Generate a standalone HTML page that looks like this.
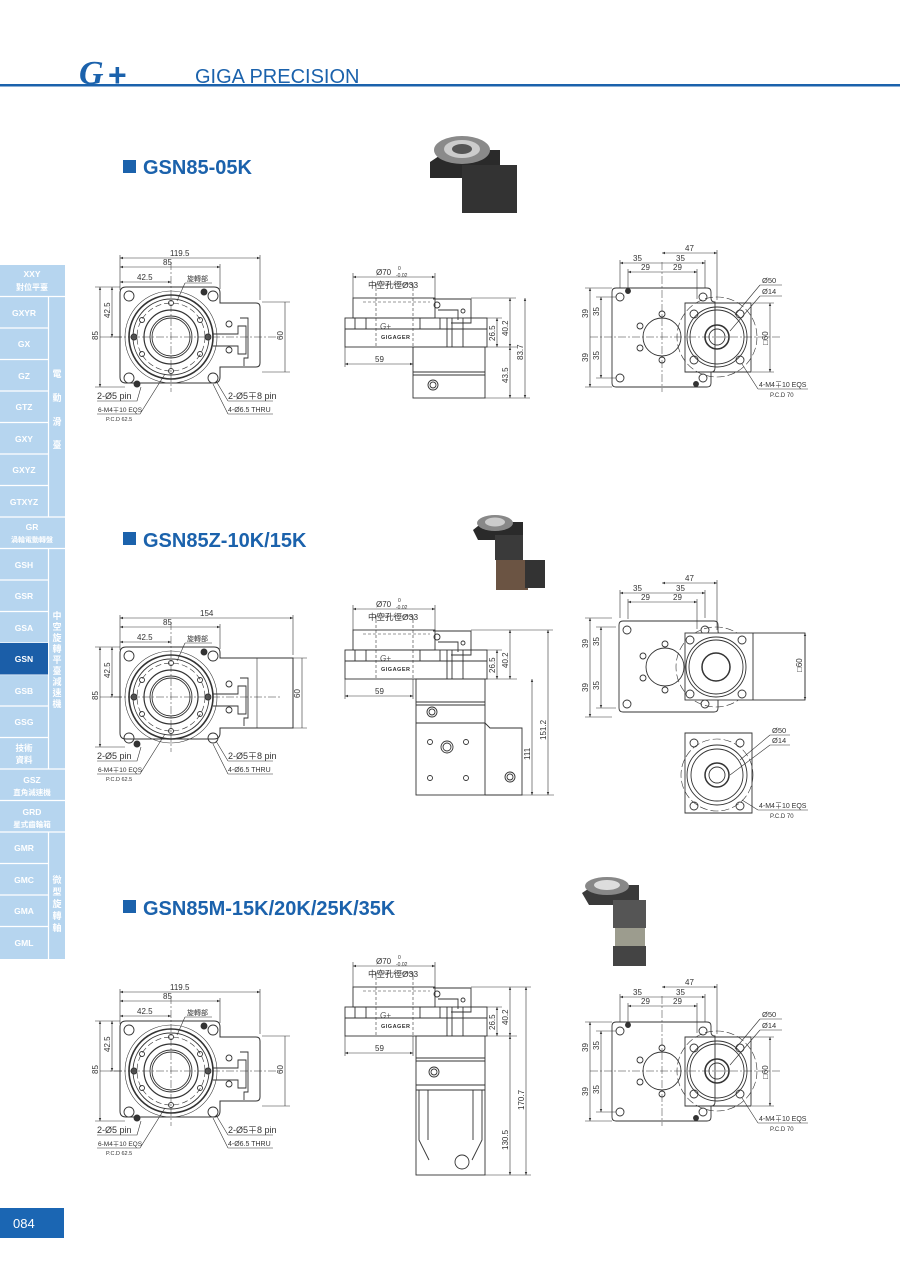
<!DOCTYPE html>
<html><head><meta charset="utf-8"><style>
html,body{margin:0;padding:0;background:#fff;}
body{width:900px;height:1272px;position:relative;overflow:hidden;font-family:"Liberation Sans","Noto Sans CJK TC",sans-serif;}
svg{position:absolute;left:0;top:0;}
</style></head><body>
<svg width="900" height="1272" viewBox="0 0 900 1272" xmlns="http://www.w3.org/2000/svg" font-family="Liberation Sans, Noto Sans CJK TC, sans-serif">
<defs>
<marker id="a" markerWidth="6" markerHeight="6" refX="5" refY="3" orient="auto-start-reverse"><path d="M0,1 L5,3 L0,5z" fill="#333"/></marker>
<g id="topv" fill="none" stroke="#333" stroke-width="0.9">
  <circle cx="171" cy="337" r="46" stroke-width="0.6"/>
  <circle cx="171" cy="337" r="42" stroke-width="1.6"/>
  <circle cx="171" cy="337" r="38"/>
  <circle cx="171" cy="337" r="34" stroke-dasharray="6 3" stroke-width="0.6"/>
  <circle cx="171" cy="337" r="27" stroke-width="1.2"/>
  <circle cx="171" cy="337" r="21"/>
  <circle cx="171" cy="337" r="19"/>
  <circle cx="129" cy="296" r="5"/><circle cx="213" cy="296" r="5"/>
  <circle cx="129" cy="378" r="5"/><circle cx="213" cy="378" r="5"/>
  <circle cx="204" cy="292" r="3" fill="#333"/><circle cx="137" cy="384" r="3" fill="#333"/>
  <circle cx="171" cy="303" r="2.5"/><circle cx="171" cy="371" r="2.5"/>
  <circle cx="142" cy="320" r="2.5"/><circle cx="200" cy="320" r="2.5"/>
  <circle cx="142" cy="354" r="2.5"/><circle cx="200" cy="354" r="2.5"/>
  <circle cx="134" cy="337" r="3" fill="#555"/><circle cx="208" cy="337" r="3" fill="#555"/>
  <path d="M213,334 h25 v-8 h8 v28 h-8 v-8 h-25" />
  <path d="M240,318 h8 v40 h-4 v8" />
  <circle cx="229" cy="324" r="3"/><circle cx="229" cy="350" r="3"/>
  <path d="M100,337 h180 M171,262 v130" stroke-dasharray="8 2 2 2" stroke-width="0.5"/>
</g>
<g id="sidetop" fill="none" stroke="#333" stroke-width="0.9">
  <rect x="353" y="298" width="82" height="20"/>
  <path d="M363,302 h67" stroke-dasharray="3 2" stroke-width="0.6"/>
  <path d="M376,288 v58 M413,288 v58" stroke-dasharray="3 2" stroke-width="0.6"/>
  <rect x="345" y="318" width="142" height="29"/>
  <path d="M345,329 h142" />
  <path d="M355,318 v11 M366,318 v11 M420,318 v11 M440,318 v11 M447,318 v29 M452,318 v29 M463,318 v29"/>
  <path d="M433,299 h38 v24 h-20 M438,310 h20 v10"/>
  <circle cx="437" cy="305" r="3"/><circle cx="463" cy="311" r="2"/>
  <text x="380" y="329" font-size="8" font-style="italic" fill="#555" stroke="none">G+</text>
  <text x="381" y="339" font-size="5.5" fill="#333" stroke="none" font-weight="bold" letter-spacing="0.5">GIGAGER</text>
</g>
<g id="rightv" fill="none" stroke="#333" stroke-width="0.9">
  <path d="M612,292 q0,-4 4,-4 h91 q4,0 4,4 v6 q0,4 4,4 v66 q0,4 -4,4 v11 q0,4 -4,4 h-91 q-4,0 -4,-4 z"/>
  <circle cx="662" cy="337" r="19"/>
  <circle cx="662" cy="314" r="3"/><circle cx="662" cy="360" r="3"/>
  <circle cx="640" cy="326" r="3"/><circle cx="640" cy="348" r="3"/>
  <circle cx="620" cy="297" r="4"/><circle cx="703" cy="297" r="4"/>
  <circle cx="620" cy="378" r="4"/><circle cx="703" cy="378" r="4"/>
  <circle cx="628" cy="291" r="2.5" fill="#333"/><circle cx="696" cy="384" r="2.5" fill="#333"/>
  <circle cx="717" cy="337" r="40" stroke-dasharray="8 3" stroke-width="0.6"/>
  <path d="M685,303 h66 v69 h-66 z" />
  <circle cx="717" cy="337" r="30"/><circle cx="717" cy="337" r="27"/>
  <circle cx="717" cy="337" r="12" stroke-width="1.6"/><circle cx="717" cy="337" r="8"/>
  <circle cx="694" cy="314" r="4"/><circle cx="740" cy="314" r="4"/>
  <circle cx="694" cy="360" r="4"/><circle cx="740" cy="360" r="4"/>
  <path d="M590,337 h190 M662,262 v130" stroke-dasharray="8 2 2 2" stroke-width="0.5"/>
</g>
<g id="rdims" font-size="8" fill="#333">
  <g stroke="#333" stroke-width="0.6" fill="none">
    <path d="M662,253 h55" marker-start="url(#a)" marker-end="url(#a)"/>
    <path d="M620,263 h85" marker-start="url(#a)" marker-end="url(#a)"/>
    <path d="M628,272 h69" marker-start="url(#a)" marker-end="url(#a)"/>
    <path d="M590,288 v99" marker-start="url(#a)" marker-end="url(#a)"/>
    <path d="M601,297 v81" marker-start="url(#a)" marker-end="url(#a)"/>
    <path d="M717,250 v50 M620,260 v28 M705,260 v28 M628,269 v20 M697,269 v30 M585,288 h27 M585,387 h27 M596,297 h20 M596,378 h20"/>
  </g>
  <text x="685" y="251">47</text><text x="633" y="261">35</text><text x="676" y="261">35</text>
  <text x="641" y="270">29</text><text x="673" y="270">29</text>
  <text transform="translate(588,318) rotate(-90)">39</text><text transform="translate(588,362) rotate(-90)">39</text>
  <text transform="translate(599,316) rotate(-90)">35</text><text transform="translate(599,360) rotate(-90)">35</text>
</g>
<g id="ldims" font-size="8" fill="#333">
  <g stroke="#333" stroke-width="0.6" fill="none">
    <path d="M120,267 h100" marker-start="url(#a)" marker-end="url(#a)"/>
    <path d="M120,282 h51" marker-start="url(#a)" marker-end="url(#a)"/>
    <path d="M100,287 v100" marker-start="url(#a)" marker-end="url(#a)"/>
    <path d="M112,287 v50" marker-start="url(#a)" marker-end="url(#a)"/>
    <path d="M120,255 v35 M220,264 v25 M95,287 h25 M95,387 h30 M108,337 h14"/>
    <path d="M185,283 h27 M185,283 l-8,18"/>
    <path d="M97,401 h40 l4,-14 M97,414 h43 l25,-40 M228,401 h45 M228,401 l-12,-20 M228,414 h45 M228,414 l-15,-30"/>
  </g>
  <text x="163" y="265">85</text><text x="137" y="280">42.5</text>
  <text x="187" y="281" font-size="7">旋轉部</text>
  <text transform="translate(98,340) rotate(-90)">85</text><text transform="translate(110,318) rotate(-90)">42.5</text>
  <text x="97" y="399" font-size="9">2-Ø5 pin</text>
  <text x="98" y="412" font-size="6.5">6-M4∓10 EQS</text>
  <text x="106" y="421" font-size="5.5">P.C.D 62.5</text>
  <text x="228" y="399" font-size="9">2-Ø5∓8 pin</text>
  <text x="228" y="412" font-size="7">4-Ø6.5 THRU</text>
</g>
<g id="sdims" font-size="8" fill="#333">
  <g stroke="#333" stroke-width="0.6" fill="none">
    <path d="M353,277 h82" marker-start="url(#a)" marker-end="url(#a)"/>
    <path d="M353,273 v25 M435,273 v25 M376,288 v-4 h37 v4"/>
    <path d="M345,364 h68" marker-start="url(#a)" marker-end="url(#a)"/>
    <path d="M345,347 v20 M413,347 v20"/>
    <path d="M497,318 v29" marker-start="url(#a)" marker-end="url(#a)"/>
    <path d="M510,298 v49" marker-start="url(#a)" marker-end="url(#a)"/>
    <path d="M465,318 h37 M471,298 h45 M487,347 h30"/>
  </g>
  <text x="376" y="275" font-size="8">Ø70</text><text x="398" y="270" font-size="5">0</text><text x="396" y="277" font-size="5">-0.02</text>
  <text x="368" y="288" font-size="8.5">中空孔徑Ø33</text>
  <text x="375" y="362">59</text>
  <text transform="translate(495,341) rotate(-90)">26.5</text>
  <text transform="translate(508,336) rotate(-90)">40.2</text>
</g>
</defs>

<!-- header -->
<rect x="0" y="84" width="900" height="2.5" fill="#1b62ac"/>
<text x="79" y="84" font-size="34" font-weight="bold" font-style="italic" fill="#1b62ac" font-family="Liberation Serif, serif">G</text>
<text x="108" y="86" font-size="32" font-weight="bold" fill="#1b62ac">+</text>
<text x="195" y="83" font-size="20" fill="#1b62ac">GIGA PRECISION</text>

<!-- sidebar -->
<g font-size="8.5" font-weight="bold" fill="#fff" text-anchor="middle">
<rect x="0" y="265" width="65" height="694" fill="#b6d5ef"/>
<g stroke="#fff" stroke-width="1.2">
<path d="M0,296.5h65M0,328h48M0,359.5h48M0,391h48M0,422.5h48M0,454h48M0,485.5h48M0,517h65M0,548.5h65M0,580h48M0,611.5h48M0,643h48M0,674.5h48M0,706h48M0,737.5h48M0,769h65M0,800.5h65M0,832h65M0,863.5h48M0,895h48M0,926.5h48"/>
<path d="M48.5,296.5V517M48.5,548.5V769M48.5,832V959"/>
</g>
<rect x="0" y="643" width="48" height="31.5" fill="#1b5ea8"/>
<text x="32" y="277">XXY</text><text x="32" y="290" font-size="8">對位平臺</text>
<text x="24" y="316">GXYR</text><text x="24" y="347">GX</text><text x="24" y="379">GZ</text>
<text x="24" y="410">GTZ</text><text x="24" y="442">GXY</text><text x="24" y="473">GXYZ</text><text x="24" y="505">GTXYZ</text>
<text x="32" y="530">GR</text><text x="32" y="542" font-size="7">渦輪電動轉盤</text>
<text x="24" y="568">GSH</text><text x="24" y="599">GSR</text><text x="24" y="631">GSA</text><text x="24" y="662">GSN</text>
<text x="24" y="694">GSB</text><text x="24" y="725">GSG</text>
<text x="24" y="751">技術</text><text x="24" y="763">資料</text>
<text x="32" y="783">GSZ</text><text x="32" y="795" font-size="7.5">直角減速機</text>
<text x="32" y="815">GRD</text><text x="32" y="827" font-size="7.5">星式齒輪箱</text>
<text x="24" y="851">GMR</text><text x="24" y="883">GMC</text><text x="24" y="914">GMA</text><text x="24" y="946">GML</text>
<g font-size="9"><text x="57" y="377">電</text><text x="57" y="401">動</text><text x="57" y="425">滑</text><text x="57" y="448">臺</text>
<text x="57" y="619">中</text><text x="57" y="630">空</text><text x="57" y="641">旋</text><text x="57" y="652">轉</text><text x="57" y="663">平</text><text x="57" y="674">臺</text><text x="57" y="685">減</text><text x="57" y="696">速</text><text x="57" y="707">機</text>
<text x="57" y="883">微</text><text x="57" y="895">型</text><text x="57" y="907">旋</text><text x="57" y="919">轉</text><text x="57" y="931">軸</text></g>
</g>

<!-- page no -->
<rect x="0" y="1208" width="64" height="30" fill="#1b66b3"/>
<text x="13" y="1228" font-size="13" fill="#fff">084</text>

<!-- titles -->
<g fill="#1b62ac" font-weight="bold" font-size="20">
<rect x="123" y="160" width="13" height="13"/><text x="143" y="174">GSN85-05K</text>
<rect x="123" y="532" width="13" height="13"/><text x="143" y="547">GSN85Z-10K/15K</text>
<rect x="123" y="900" width="13" height="13"/><text x="143" y="915">GSN85M-15K/20K/25K/35K</text>
</g>

<!-- photos -->
<g>
<path d="M430,162 l18,-12 h52 v28 h-70z" fill="#2a2a2a"/>
<rect x="462" y="165" width="55" height="48" fill="#333"/>
<ellipse cx="462" cy="150" rx="28" ry="14" fill="#8a8a8a"/><ellipse cx="462" cy="149" rx="18" ry="9" fill="#ccc"/><ellipse cx="462" cy="149" rx="10" ry="5" fill="#555"/>
</g>
<g>
<path d="M473,530 l10,-8 h40 v18 h-45z" fill="#2a2a2a"/>
<rect x="495" y="535" width="28" height="25" fill="#3a3a3a"/>
<rect x="496" y="560" width="32" height="30" fill="#6b5443"/>
<rect x="525" y="560" width="20" height="28" fill="#333"/>
<ellipse cx="495" cy="523" rx="18" ry="8" fill="#888"/><ellipse cx="495" cy="522" rx="10" ry="4.5" fill="#ccc"/>
</g>
<g>
<path d="M582,893 l12,-8 h45 v20 h-50z" fill="#3a3a3a"/>
<rect x="613" y="900" width="33" height="28" fill="#555"/>
<rect x="615" y="928" width="30" height="18" fill="#9c9c8e"/>
<rect x="613" y="946" width="33" height="20" fill="#444"/>
<ellipse cx="607" cy="886" rx="22" ry="9" fill="#888"/><ellipse cx="607" cy="885" rx="13" ry="5" fill="#ddd"/>
</g>

<!-- SECTION 1 -->
<use href="#topv"/>
<path d="M120,293 q0,-6 6,-6 h88 q6,0 6,6 v10 h36 q4,0 4,4 v56 q0,4 -4,4 h-36 v10 q0,6 -6,6 h-88 q-6,0 -6,-6 z" fill="none" stroke="#333"/>
<use href="#ldims"/>
<g stroke="#333" stroke-width="0.6" fill="none"><path d="M120,258 h140" marker-start="url(#a)" marker-end="url(#a)"/><path d="M260,255 v45 M285,302 v70" /><path d="M262,302 h28 M262,372 h28"/></g>
<text x="170" y="256" font-size="8" fill="#333">119.5</text>
<text transform="translate(283,340) rotate(-90)" font-size="8" fill="#333">60</text>

<use href="#sidetop"/>
<g fill="none" stroke="#333" stroke-width="0.9"><rect x="413" y="347" width="72" height="51"/><path d="M413,372 h72 M413,375 h72"/><circle cx="433" cy="385" r="5"/><circle cx="433" cy="385" r="3"/></g>
<use href="#sdims"/>
<g stroke="#333" stroke-width="0.6" fill="none"><path d="M510,347 v51" marker-start="url(#a)" marker-end="url(#a)"/><path d="M525,298 v100" marker-start="url(#a)" marker-end="url(#a)"/><path d="M485,398 h45"/></g>
<text transform="translate(508,383) rotate(-90)" font-size="8" fill="#333">43.5</text>
<text transform="translate(523,360) rotate(-90)" font-size="8" fill="#333">83.7</text>

<use href="#rightv"/>
<use href="#rdims"/>
<g stroke="#333" stroke-width="0.6" fill="none"><path d="M770,303 v69" marker-start="url(#a)" marker-end="url(#a)"/><path d="M752,303 h22 M752,372 h22"/><path d="M760,285 h22 M760,285 l-25,30 M760,296 h22 M760,296 l-30,35 M758,389 h50 M758,389 l-16,-25"/></g>
<text transform="translate(768,345) rotate(-90)" font-size="8" fill="#333">□60</text>
<text x="762" y="283" font-size="7.5" fill="#333">Ø50</text><text x="762" y="294" font-size="7.5" fill="#333">Ø14</text>
<text x="759" y="387" font-size="7" fill="#333">4-M4∓10 EQS</text><text x="770" y="397" font-size="6" fill="#333">P.C.D 70</text>

<!-- SECTION 2 -->
<g transform="translate(0,360)">
<use href="#topv"/>
<path d="M120,293 q0,-6 6,-6 h88 q6,0 6,6 v5 h73 v70 h-73 v5 q0,6 -6,6 h-88 q-6,0 -6,-6 z" fill="none" stroke="#333"/>
<use href="#ldims"/>
<g stroke="#333" stroke-width="0.6" fill="none"><path d="M120,258 h173" marker-start="url(#a)" marker-end="url(#a)"/><path d="M293,255 v40 M302,298 v70 M293,298 h14 M293,368 h14 M257,298 v70"/></g>
<text x="200" y="256" font-size="8" fill="#333">154</text>
<text transform="translate(300,338) rotate(-90)" font-size="8" fill="#333">60</text>
</g>
<g transform="translate(0,332)">
<use href="#sidetop"/>
<use href="#sdims"/>
</g>
<g fill="none" stroke="#333" stroke-width="0.9">
<rect x="416" y="679" width="69" height="116"/>
<path d="M416,702 h69 M416,705 h69 M416,723 h69 M485,723 l5,5 h32 v67 h-37"/>
<circle cx="432" cy="712" r="5"/><circle cx="432" cy="712" r="3"/>
<circle cx="447" cy="747" r="6"/><circle cx="447" cy="747" r="4"/>
<circle cx="430" cy="742" r="2.5"/><circle cx="466" cy="742" r="2.5"/><circle cx="430" cy="778" r="2.5"/><circle cx="466" cy="778" r="2.5"/>
<circle cx="510" cy="777" r="5"/><circle cx="510" cy="777" r="3"/>
</g>
<g stroke="#333" stroke-width="0.6" fill="none"><path d="M532,679 v116" marker-start="url(#a)" marker-end="url(#a)"/><path d="M548,630 v165" marker-start="url(#a)" marker-end="url(#a)"/><path d="M522,795 h32 M516,630 h37"/></g>
<text transform="translate(530,760) rotate(-90)" font-size="8" fill="#333">111</text>
<text transform="translate(546,740) rotate(-90)" font-size="8" fill="#333">151.2</text>

<g fill="none" stroke="#333" stroke-width="0.9">
<path d="M619,625 q0,-4 4,-4 h91 q4,0 4,4 v6 q0,4 4,4 v58 q0,4 -4,4 v11 q0,4 -4,4 h-91 q-4,0 -4,-4 z"/>
<circle cx="665" cy="667" r="19"/><circle cx="665" cy="644" r="3"/><circle cx="665" cy="690" r="3"/><circle cx="643" cy="656" r="3"/><circle cx="643" cy="678" r="3"/>
<circle cx="627" cy="630" r="4"/><circle cx="705" cy="630" r="4"/><circle cx="627" cy="704" r="4"/><circle cx="705" cy="704" r="4"/>
<circle cx="716" cy="667" r="40" stroke-dasharray="8 3" stroke-width="0.6"/>
<rect x="685" y="633" width="120" height="67" fill="#fff"/><path d="M753,633 v67"/>
<circle cx="716" cy="667" r="30"/><circle cx="716" cy="667" r="27"/><circle cx="716" cy="667" r="14" stroke-width="1.5"/>
<circle cx="690" cy="640" r="4"/><circle cx="742" cy="640" r="4"/><circle cx="690" cy="694" r="4"/><circle cx="742" cy="694" r="4"/>
<path d="M685,733 h67 v80 h-67 z"/>
<circle cx="717" cy="775" r="36" stroke-dasharray="8 3" stroke-width="0.6"/>
<circle cx="717" cy="775" r="30"/><circle cx="717" cy="775" r="26"/><circle cx="717" cy="775" r="12" stroke-width="1.5"/><circle cx="717" cy="775" r="8"/>
<circle cx="694" cy="743" r="4"/><circle cx="740" cy="743" r="4"/><circle cx="694" cy="806" r="4"/><circle cx="740" cy="806" r="4"/>
</g>
<g transform="translate(0,330)"><use href="#rdims"/></g>
<g stroke="#333" stroke-width="0.6" fill="none"><path d="M805,633 v67" marker-start="url(#a)" marker-end="url(#a)"/><path d="M770,735 h20 M770,735 l-30,25 M770,745 h20 M770,745 l-40,30 M758,810 h50 M758,810 l-16,-10"/></g>
<text transform="translate(802,672) rotate(-90)" font-size="8" fill="#333">□60</text>
<text x="772" y="733" font-size="7.5" fill="#333">Ø50</text><text x="772" y="743" font-size="7.5" fill="#333">Ø14</text>
<text x="759" y="808" font-size="7" fill="#333">4-M4∓10 EQS</text><text x="770" y="818" font-size="6" fill="#333">P.C.D 70</text>

<!-- SECTION 3 -->
<g transform="translate(0,734)">
<use href="#topv"/>
<path d="M120,293 q0,-6 6,-6 h88 q6,0 6,6 v10 h36 q4,0 4,4 v56 q0,4 -4,4 h-36 v10 q0,6 -6,6 h-88 q-6,0 -6,-6 z" fill="none" stroke="#333"/>
<use href="#ldims"/>
<g stroke="#333" stroke-width="0.6" fill="none"><path d="M120,258 h140" marker-start="url(#a)" marker-end="url(#a)"/><path d="M260,255 v45 M285,302 v70 M262,302 h28 M262,372 h28"/></g>
<text x="170" y="256" font-size="8" fill="#333">119.5</text>
<text transform="translate(283,340) rotate(-90)" font-size="8" fill="#333">60</text>
<use href="#rightv"/>
<use href="#rdims"/>
<g stroke="#333" stroke-width="0.6" fill="none"><path d="M770,303 v69" marker-start="url(#a)" marker-end="url(#a)"/><path d="M752,303 h22 M752,372 h22"/><path d="M760,285 h22 M760,285 l-25,30 M760,296 h22 M760,296 l-30,35 M758,389 h50 M758,389 l-16,-25"/></g>
<text transform="translate(768,345) rotate(-90)" font-size="8" fill="#333">□60</text>
<text x="762" y="283" font-size="7.5" fill="#333">Ø50</text><text x="762" y="294" font-size="7.5" fill="#333">Ø14</text>
<text x="759" y="387" font-size="7" fill="#333">4-M4∓10 EQS</text><text x="770" y="397" font-size="6" fill="#333">P.C.D 70</text>
</g>
<g transform="translate(0,689)">
<use href="#sidetop"/>
<use href="#sdims"/>
</g>
<g fill="none" stroke="#333" stroke-width="0.9">
<rect x="416" y="1036" width="69" height="139"/>
<path d="M416,1058 h69 M416,1061 h69 M416,1085 h69 M416,1090 h69"/>
<circle cx="434" cy="1072" r="5"/><circle cx="434" cy="1072" r="3"/>
<path d="M419,1090 v50 l10,20 M428,1090 v50 M482,1090 v50 l-10,20 M473,1090 v50"/>
<circle cx="462" cy="1162" r="7"/>
</g>
<g stroke="#333" stroke-width="0.6" fill="none"><path d="M510,1036 v139" marker-start="url(#a)" marker-end="url(#a)"/><path d="M526,987 v188" marker-start="url(#a)" marker-end="url(#a)"/><path d="M485,1175 h46 M516,987 h15"/></g>
<text transform="translate(508,1150) rotate(-90)" font-size="8" fill="#333">130.5</text>
<text transform="translate(524,1110) rotate(-90)" font-size="8" fill="#333">170.7</text>
</svg>
</body></html>
